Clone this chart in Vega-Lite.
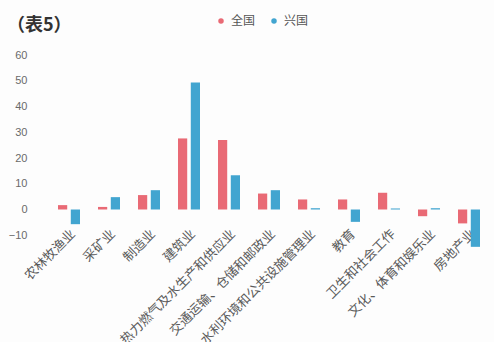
{
  "$schema": "https://vega.github.io/schema/vega-lite/v6.json",
  "autosize": "none",
  "width": 440,
  "height": 206,
  "padding": {"left": 49, "top": 55, "right": 5, "bottom": 81},
  "background": "#fdfdfd",
  "title": {"text": "（表5）", "anchor": "start", "frame": "group", "dx": -42, "offset": -20, "fontSize": 18, "fontWeight": "bold", "color": "#333333", "font": "Noto Sans CJK SC"},
  "data": {"values": [
    {"industry": "农林牧渔业", "region": "全国", "value": 1.7},
    {"industry": "农林牧渔业", "region": "兴国", "value": -5.7},
    {"industry": "采矿业", "region": "全国", "value": 1.0},
    {"industry": "采矿业", "region": "兴国", "value": 4.8},
    {"industry": "制造业", "region": "全国", "value": 5.6},
    {"industry": "制造业", "region": "兴国", "value": 7.5},
    {"industry": "建筑业", "region": "全国", "value": 27.6},
    {"industry": "建筑业", "region": "兴国", "value": 49.3},
    {"industry": "电力、热力燃气及水生产和供应业", "region": "全国", "value": 27.0},
    {"industry": "电力、热力燃气及水生产和供应业", "region": "兴国", "value": 13.3},
    {"industry": "交通运输、仓储和邮政业", "region": "全国", "value": 6.2},
    {"industry": "交通运输、仓储和邮政业", "region": "兴国", "value": 7.5},
    {"industry": "水利环境和公共设施管理业", "region": "全国", "value": 3.9},
    {"industry": "水利环境和公共设施管理业", "region": "兴国", "value": 0.5},
    {"industry": "教育", "region": "全国", "value": 3.9},
    {"industry": "教育", "region": "兴国", "value": -4.8},
    {"industry": "卫生和社会工作", "region": "全国", "value": 6.5},
    {"industry": "卫生和社会工作", "region": "兴国", "value": 0.4},
    {"industry": "文化、体育和娱乐业", "region": "全国", "value": -2.6},
    {"industry": "文化、体育和娱乐业", "region": "兴国", "value": 0.5},
    {"industry": "房地产业", "region": "全国", "value": -5.4},
    {"industry": "房地产业", "region": "兴国", "value": -14.5}
  ]},
  "mark": {"type": "bar"},
  "encoding": {
    "x": {
      "field": "industry", "type": "nominal", "sort": null,
      "scale": {"paddingInner": 0.45, "paddingOuter": 0.225},
      "axis": {"title": null, "labelAngle": -45, "labelAlign": "right", "labelBaseline": "top", "labelPadding": 18, "offset": -51.7, "domain": false, "ticks": false, "labelFontSize": 13, "labelColor": "#5a5a5a", "labelFont": "Noto Sans CJK SC", "labelLimit": 400}
    },
    "xOffset": {"field": "region", "type": "nominal", "sort": ["全国", "兴国"], "scale": {"paddingInner": 0.28}},
    "y": {
      "field": "value", "type": "quantitative",
      "scale": {"domain": [-20, 60], "nice": false},
      "axis": {"title": null, "values": [-10, 0, 10, 20, 30, 40, 50, 60], "grid": false, "domain": false, "ticks": false, "labelPadding": 22, "labelFontSize": 11, "labelColor": "#6a6a6a"}
    },
    "color": {
      "field": "region", "type": "nominal", "sort": ["全国", "兴国"],
      "scale": {"domain": ["全国", "兴国"], "range": ["#E96A75", "#42A5D0"]},
      "legend": {"title": null, "orient": "none", "direction": "horizontal", "legendX": 166, "legendY": -40, "symbolType": "circle", "symbolSize": 30, "labelFontSize": 12, "labelColor": "#555555", "labelFont": "Noto Sans CJK SC", "columnPadding": 12}
    }
  },
  "config": {"view": {"stroke": null}}
}
